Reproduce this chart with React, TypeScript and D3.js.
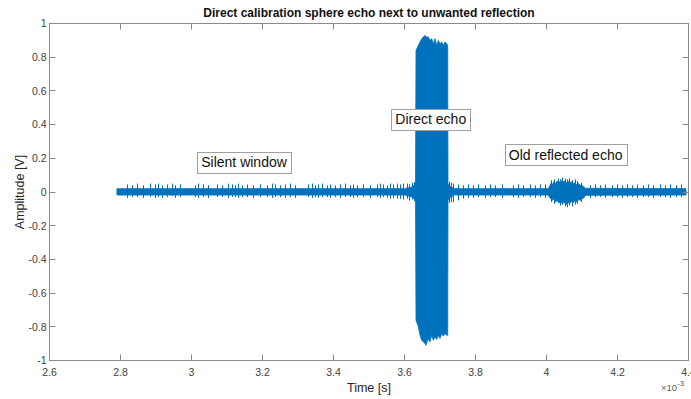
import React, { useEffect, useRef } from "react";
import * as d3 from "d3";

const W = 691;
const H = 399;

const titleText = "Direct calibration sphere echo next to unwanted reflection";
const xLabelText = "Time [s]";
const yLabelText = "Amplitude [V]";

const xTicks = [2.6, 2.8, 3, 3.2, 3.4, 3.6, 3.8, 4, 4.2, 4.4];
const xTickLabels = ["2.6", "2.8", "3", "3.2", "3.4", "3.6", "3.8", "4", "4.2", "4.4"];
const yTicks = [-1, -0.8, -0.6, -0.4, -0.2, 0, 0.2, 0.4, 0.6, 0.8, 1];
const yTickLabels = ["-1", "-0.8", "-0.6", "-0.4", "-0.2", "0", "0.2", "0.4", "0.6", "0.8", "1"];

// Signal envelope (time in units of 1e-3 s)
const envTime = [
  2.79, 3.6, 3.622, 3.629, 3.631,
  3.6324, 3.6389, 3.6437, 3.6485, 3.6578, 3.6606, 3.667, 3.6718, 3.6766, 3.6811,
  3.6859, 3.6907, 3.6952, 3.7, 3.7048, 3.7093, 3.7141, 3.7189, 3.7217,
  3.7225, 3.727, 3.74, 4.004, 4.008, 4.012, 4.016, 4.02, 4.025, 4.03, 4.035, 4.04,
  4.045, 4.05, 4.055, 4.06, 4.065, 4.07, 4.075, 4.08, 4.085, 4.09, 4.095, 4.1, 4.105,
  4.11, 4.393,
];
const envUpper = [
  0.02, 0.02, 0.03, 0.045, 0.06,
  0.84, 0.87, 0.89, 0.91, 0.93, 0.92, 0.92, 0.9, 0.91, 0.88,
  0.91, 0.87, 0.9, 0.88, 0.89, 0.87, 0.89, 0.88, 0.87,
  0.05, 0.035, 0.02, 0.02, 0.03, 0.05, 0.04, 0.06, 0.05, 0.065, 0.055, 0.07,
  0.06, 0.065, 0.055, 0.065, 0.055, 0.06, 0.05, 0.055, 0.045, 0.05, 0.04, 0.04, 0.03,
  0.022, 0.02,
];
const envLower = [
  -0.018, -0.018, -0.03, -0.045, -0.055,
  -0.76, -0.8, -0.85, -0.88, -0.9, -0.91, -0.87, -0.89, -0.85, -0.88,
  -0.86, -0.875, -0.85, -0.87, -0.84, -0.855, -0.84, -0.85, -0.85,
  -0.05, -0.035, -0.018, -0.018, -0.03, -0.04, -0.05, -0.04, -0.06, -0.05, -0.065, -0.055,
  -0.07, -0.06, -0.075, -0.06, -0.07, -0.055, -0.065, -0.05, -0.06, -0.045, -0.05, -0.04, -0.035,
  -0.02, -0.018,
];

// Noise spikes
const spikeTime = [
  2.8175, 2.8315, 2.8456, 2.8642, 2.883, 2.897, 2.9065, 2.916, 2.93, 2.944, 2.9535, 2.9676,
  3.0099, 3.0192, 3.0333, 3.0473, 3.071, 3.085, 3.1037, 3.1132, 3.1225, 3.1318, 3.1414, 3.1555,
  3.1741, 3.193, 3.2118, 3.2259, 3.2352, 3.2493, 3.2634, 3.2775, 3.2915, 3.329, 3.3386, 3.3479,
  3.3572, 3.3668, 3.3808, 3.3901, 3.4042, 3.4183, 3.4324, 3.4465, 3.4558, 3.4654, 3.484, 3.5028,
  3.5217, 3.531, 3.5403, 3.5499, 3.5592, 3.5685, 3.578, 3.5873, 3.5966, 3.6062, 3.6118, 3.6203, 3.6262,
  3.7262, 3.7305, 3.7366, 3.7507, 3.7648, 3.7789, 3.793, 3.807, 3.8268, 3.8408, 3.855, 3.8738, 3.9065, 3.9206,
  3.9346, 3.9535, 3.9676, 3.9817, 3.9958,
  4.014, 4.022, 4.031, 4.038, 4.044, 4.052, 4.058, 4.064, 4.071, 4.079, 4.087, 4.096,
  4.1225, 4.1366, 4.1507, 4.1648, 4.1837, 4.1977, 4.2118,
  4.2259, 4.24, 4.254, 4.2727, 4.2868, 4.3008, 4.3197, 4.3338, 4.3479, 4.3648, 4.3789,
];
const spikeUpper = [
  0.045, 0.04, 0.05, 0.04, 0.05, 0.045, 0.05, 0.04, 0.045, 0.05, 0.04, 0.045,
  0.04, 0.05, 0.045, 0.04, 0.045, 0.04, 0.05, 0.045, 0.04, 0.05, 0.04, 0.045,
  0.04, 0.045, 0.04, 0.05, 0.045, 0.04, 0.045, 0.05, 0.04, 0.045, 0.05, 0.04,
  0.045, 0.05, 0.04, 0.045, 0.04, 0.045, 0.05, 0.04, 0.045, 0.04, 0.045, 0.04,
  0.045, 0.05, 0.045, 0.04, 0.05, 0.045, 0.05, 0.045, 0.05, 0.05, 0.045, 0.055, 0.06,
  0.06, 0.055, 0.05, 0.045, 0.04, 0.045, 0.04, 0.045, 0.04, 0.045, 0.04, 0.045, 0.04, 0.045,
  0.04, 0.045, 0.04, 0.045, 0.045,
  0.07, 0.075, 0.08, 0.075, 0.085, 0.08, 0.075, 0.08, 0.07, 0.075, 0.065, 0.055,
  0.04, 0.045, 0.04, 0.045, 0.04, 0.045, 0.04,
  0.045, 0.04, 0.045, 0.04, 0.045, 0.04, 0.045, 0.04, 0.045, 0.04, 0.045,
];
const spikeLower = [
  -0.035, -0.03, -0.03, -0.035, -0.03, -0.035, -0.03, -0.035, -0.03, -0.025, -0.035, -0.03,
  -0.03, -0.035, -0.03, -0.035, -0.03, -0.03, -0.035, -0.03, -0.03, -0.035, -0.03, -0.03,
  -0.035, -0.03, -0.03, -0.035, -0.03, -0.03, -0.035, -0.03, -0.035, -0.03, -0.035, -0.03,
  -0.035, -0.03, -0.03, -0.035, -0.03, -0.035, -0.03, -0.03, -0.035, -0.03, -0.03, -0.035,
  -0.03, -0.035, -0.03, -0.035, -0.04, -0.035, -0.04, -0.04, -0.045, -0.04, -0.05, -0.045, -0.055,
  -0.065, -0.06, -0.06, -0.05, -0.04, -0.035, -0.035, -0.03, -0.035, -0.03, -0.03, -0.035, -0.03, -0.035,
  -0.03, -0.03, -0.035, -0.03, -0.035,
  -0.06, -0.07, -0.065, -0.08, -0.075, -0.085, -0.09, -0.08, -0.085, -0.075, -0.07, -0.06,
  -0.035, -0.03, -0.03, -0.035, -0.03, -0.03, -0.035,
  -0.03, -0.03, -0.035, -0.03, -0.03, -0.035, -0.03, -0.03, -0.035, -0.03, -0.03,
];

const annotationText = ["Silent window", "Direct echo", "Old reflected echo"];
const annotationTime = [3.148, 3.674, 4.054];
const annotationAmp = [0.178, 0.431, 0.22];

const FONT = "'Liberation Sans', Arial, Helvetica, sans-serif";
const LINE = "#0072BD";

export default function App() {
  const ref = useRef<SVGSVGElement>(null);

  useEffect(() => {
    const svg = d3.select(ref.current);
    svg.selectAll("*").remove();

    const left = 49.5, right = 688.5, top = 23.5, bottom = 360.5;
    const x = d3.scaleLinear().domain([2.6, 4.4]).range([left, right]);
    const y = d3.scaleLinear().domain([-1, 1]).range([bottom, top]);

    svg.append("rect").attr("width", W).attr("height", H).attr("fill", "#fff");

    svg.append("defs").append("clipPath").attr("id", "plotclip")
      .append("rect").attr("x", left).attr("y", top)
      .attr("width", right - left).attr("height", bottom - top);

    const plot = svg.append("g").attr("clip-path", "url(#plotclip)");

    const env = envTime.map((t, i) => ({ t, u: envUpper[i], l: envLower[i] }));
    const area = d3.area<any>()
      .x((d) => x(d.t))
      .y0((d) => y(d.l))
      .y1((d) => y(d.u));
    plot.append("path").attr("d", area(env)).attr("fill", LINE)
      .attr("stroke", LINE).attr("stroke-width", 0.8);

    const spikes = spikeTime.map((t, i) => ({ t, u: spikeUpper[i], l: spikeLower[i] }));
    plot.selectAll("line.spike").data(spikes).enter().append("line")
      .attr("class", "spike")
      .attr("x1", (d) => Math.round(x(d.t)) + 0.5)
      .attr("x2", (d) => Math.round(x(d.t)) + 0.5)
      .attr("y1", (d) => y(d.u))
      .attr("y2", (d) => y(d.l))
      .attr("stroke", LINE).attr("stroke-width", 1);

    // Axes box
    const axisColor = "#8a8a8a";
    svg.append("rect").attr("x", left).attr("y", top)
      .attr("width", right - left).attr("height", bottom - top)
      .attr("fill", "none").attr("stroke", axisColor).attr("stroke-width", 1);

    const tl = 6;
    const g = svg.append("g");
    xTicks.forEach((v) => {
      const px = Math.round(x(v) - 0.5) + 0.5;
      g.append("line").attr("x1", px).attr("x2", px).attr("y1", bottom).attr("y2", bottom - tl)
        .attr("stroke", axisColor);
      g.append("line").attr("x1", px).attr("x2", px).attr("y1", top).attr("y2", top + tl)
        .attr("stroke", axisColor);
    });
    yTicks.forEach((v) => {
      const py = Math.round(y(v) - 0.5) + 0.5;
      g.append("line").attr("x1", left).attr("x2", left + tl).attr("y1", py).attr("y2", py)
        .attr("stroke", axisColor);
      g.append("line").attr("x1", right).attr("x2", right - tl).attr("y1", py).attr("y2", py)
        .attr("stroke", axisColor);
    });

    const labelColor = "#404040";
    xTicks.forEach((v, i) => {
      svg.append("text").attr("x", x(v)).attr("y", bottom + 15)
        .attr("text-anchor", "middle").attr("font-family", FONT).attr("font-size", 10.5)
        .attr("fill", labelColor).text(xTickLabels[i]);
    });
    yTicks.forEach((v, i) => {
      svg.append("text").attr("x", left - 3).attr("y", y(v) + 3.8)
        .attr("text-anchor", "end").attr("font-family", FONT).attr("font-size", 10.5)
        .attr("fill", labelColor).text(yTickLabels[i]);
    });

    // exponent
    const ex = svg.append("text").attr("x", 661).attr("y", 391)
      .attr("font-family", FONT).attr("font-size", 9.5).attr("fill", "#595959");
    ex.append("tspan").text("\u00d710");
    ex.append("tspan").attr("dy", -5).attr("font-size", 8).text("-3");

    // Title and labels
    svg.append("text").attr("x", (left + right) / 2).attr("y", 16.5)
      .attr("text-anchor", "middle").attr("font-family", FONT).attr("font-size", 12)
      .attr("font-weight", "bold").attr("fill", "#111").text(titleText);
    svg.append("text").attr("x", (left + right) / 2).attr("y", 392)
      .attr("text-anchor", "middle").attr("font-family", FONT).attr("font-size", 12.5)
      .attr("fill", "#262626").text(xLabelText);
    svg.append("text")
      .attr("transform", `translate(24,${(top + bottom) / 2}) rotate(-90)`)
      .attr("text-anchor", "middle").attr("font-family", FONT).attr("font-size", 12.5)
      .attr("fill", "#262626").text(yLabelText);

    // Annotations
    annotationText.forEach((txt, i) => {
      const cx = x(annotationTime[i]);
      const cy = y(annotationAmp[i]);
      const ag = svg.append("g");
      const rect = ag.append("rect").attr("fill", "#fff").attr("stroke", "#a0a0a0").attr("stroke-width", 1);
      const t = ag.append("text").attr("x", cx).attr("y", cy + 5)
        .attr("text-anchor", "middle").attr("font-family", FONT).attr("font-size", 14)
        .attr("fill", "#111").text(txt);
      const w = (t.node() as SVGTextElement).getComputedTextLength();
      const bw = w + 8, bh = 21;
      rect.attr("x", Math.round(cx - bw / 2) + 0.5).attr("y", Math.round(cy - bh / 2) + 0.5)
        .attr("width", Math.round(bw)).attr("height", bh);
    });
  }, []);

  return (
    <div style={{ position: "absolute", left: 0, top: 0 }}>
      <svg ref={ref} width={W} height={H} style={{ display: "block" }} />
    </div>
  );
}
